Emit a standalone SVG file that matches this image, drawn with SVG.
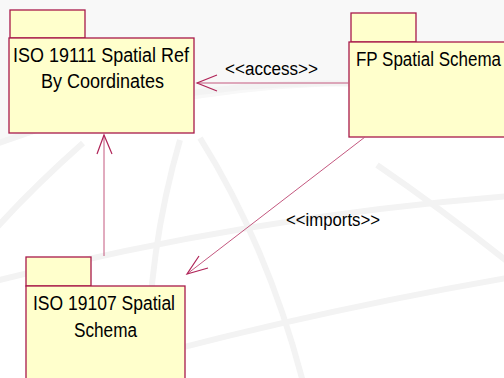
<svg xmlns="http://www.w3.org/2000/svg" width="504" height="378" viewBox="0 0 504 378">
  <style>
    .pkg { fill: #ffffcc; stroke: #a8194a; stroke-width: 1.3; }
    .name { font-family: "Liberation Sans", Arial, sans-serif; font-size: 20px; fill: #000; }
    .lbl { font-family: "Liberation Sans", Arial, sans-serif; font-size: 18px; fill: #000; }
    .dep { fill: none; stroke: #c4587f; stroke-width: 1; }
    .head { fill: none; stroke: #b02458; stroke-width: 1.2; }
    .wm { fill: none; stroke: #f3f3f3; stroke-width: 6; }
  </style>

  <rect x="0" y="0" width="504" height="378" fill="#ffffff"/>

  <!-- faint globe backdrop -->
  <g id="backdrop">
    <path d="M -20 0 L 524 0 L 524 95 Q 260 60 -20 150 Z" fill="#f8f8f8"/>
    <path class="wm" d="M -20 150 Q 250 45 524 105"/>
    <path class="wm" d="M -20 285 Q 250 215 524 195"/>
    <path class="wm" d="M 30 390 Q 260 320 524 275"/>
    <path class="wm" d="M 83 143 Q 30 190 -10 235"/>
    <path class="wm" d="M 180 140 Q 145 260 148 390"/>
    <path class="wm" d="M 200 138 Q 270 250 305 390"/>
    <path class="wm" d="M 377 165 Q 450 215 524 275"/>
  </g>

  <!-- packages -->
  <g id="iso19111">
    <rect class="pkg" x="10" y="10" width="75" height="28"/>
    <rect class="pkg" x="9" y="38" width="185" height="95"/>
    <text class="name" x="13" y="62" textLength="176" lengthAdjust="spacingAndGlyphs">ISO 19111 Spatial Ref</text>
    <text class="name" x="41" y="88" textLength="123" lengthAdjust="spacingAndGlyphs">By Coordinates</text>
  </g>

  <g id="fpSpatialSchema">
    <rect class="pkg" x="351" y="13" width="65" height="29"/>
    <rect class="pkg" x="349" y="42" width="175" height="95"/>
    <text class="name" transform="translate(356,66) scale(1,1.15)" x="0" y="0" style="font-size:17px">FP Spatial Schema</text>
  </g>

  <g id="iso19107">
    <rect class="pkg" x="26" y="257" width="65" height="29"/>
    <rect class="pkg" x="26" y="286" width="159" height="110"/>
    <text class="name" x="33" y="310" textLength="142" lengthAdjust="spacingAndGlyphs">ISO 19107 Spatial</text>
    <text class="name" x="74" y="337" textLength="63" lengthAdjust="spacingAndGlyphs">Schema</text>
  </g>

  <!-- dependencies -->
  <g id="connectors">
    <line class="dep" x1="349" y1="83" x2="197" y2="83"/>
    <polyline class="head" points="217,75 197,83 217,91"/>
    <text class="lbl" x="225" y="75" textLength="93" lengthAdjust="spacingAndGlyphs">&lt;&lt;access&gt;&gt;</text>

    <line class="dep" x1="104" y1="256" x2="104" y2="135"/>
    <polyline class="head" points="97,154 104,135 112,154"/>

    <line class="dep" x1="365" y1="137" x2="187" y2="274"/>
    <polyline class="head" points="199,256 187,274 208,268"/>
    <text class="lbl" x="286" y="226" textLength="94" lengthAdjust="spacingAndGlyphs">&lt;&lt;imports&gt;&gt;</text>
  </g>
</svg>
